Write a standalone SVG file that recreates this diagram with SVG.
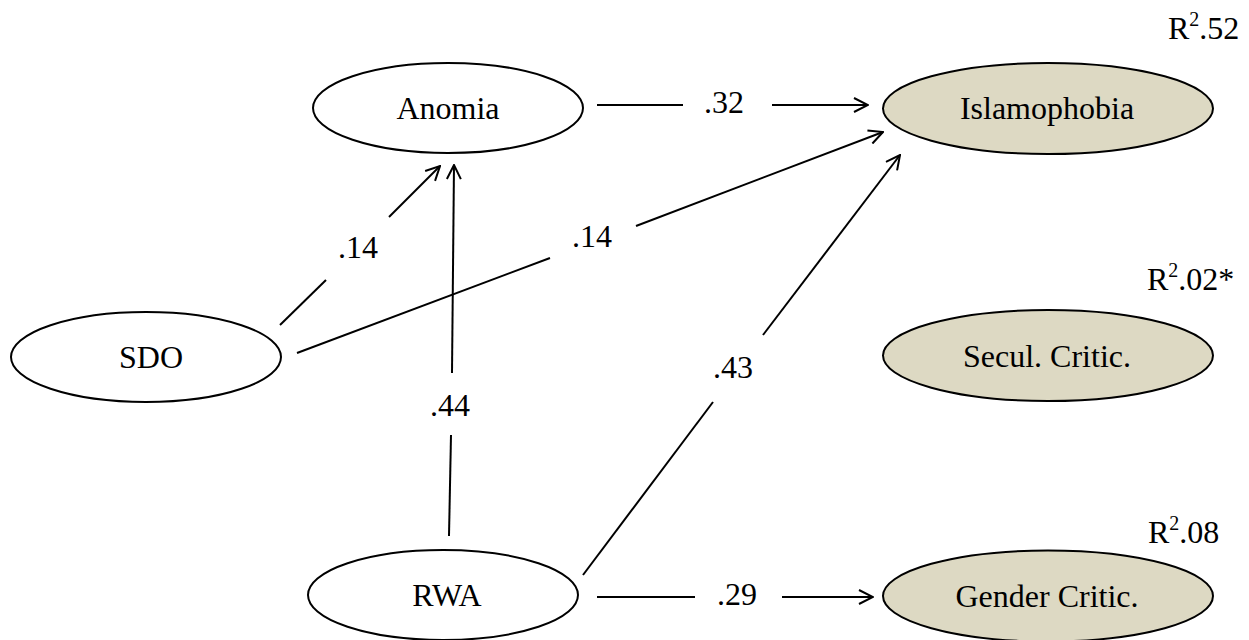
<svg xmlns="http://www.w3.org/2000/svg" width="1249" height="640" viewBox="0 0 1249 640">
<style>
text{font-family:"Liberation Serif","Times New Roman",serif;font-size:32px;fill:#000}
.lab{text-anchor:middle}
ellipse{stroke:#000;stroke-width:2}
.ind{fill:#fff}
.dep{fill:#DDD9C3}
.c line{stroke:#000;stroke-width:2;fill:none}
.sup{font-size:20px}
</style>
<defs>
<marker id="arr" viewBox="0 0 16 16" refX="15" refY="8" markerWidth="16" markerHeight="16" markerUnits="userSpaceOnUse" orient="auto">
<path d="M1,1 L15,8 L1,15" fill="none" stroke="#000" stroke-width="2"/>
</marker>
</defs>
<rect width="1249" height="640" fill="#fff"/>
<g id="connectors" class="c">
<line x1="597" y1="105" x2="683" y2="105"/>
<line x1="772" y1="105" x2="868" y2="105" marker-end="url(#arr)"/>
<line x1="280" y1="325" x2="326" y2="280"/>
<line x1="389" y1="217" x2="440" y2="166" marker-end="url(#arr)"/>
<line x1="297" y1="353" x2="550" y2="258"/>
<line x1="636" y1="226" x2="883" y2="132" marker-end="url(#arr)"/>
<line x1="449" y1="536" x2="451" y2="435"/>
<line x1="452" y1="373" x2="454" y2="165" marker-end="url(#arr)"/>
<line x1="583" y1="575" x2="713" y2="402"/>
<line x1="763" y1="335" x2="900" y2="155" marker-end="url(#arr)"/>
<line x1="597" y1="597" x2="695" y2="597"/>
<line x1="782" y1="597" x2="873" y2="597" marker-end="url(#arr)"/>
<text x="724" y="113" class="lab">.32</text>
<text x="358" y="258" class="lab">.14</text>
<text x="592" y="247" class="lab">.14</text>
<text x="450" y="416" class="lab">.44</text>
<text x="733" y="378" class="lab">.43</text>
<text x="737" y="605" class="lab">.29</text>
</g>
<g id="anomia">
<ellipse class="ind" cx="448" cy="108" rx="135" ry="45"/>
<text x="448" y="119" class="lab">Anomia</text>
</g>
<g id="sdo">
<ellipse class="ind" cx="146" cy="357" rx="135" ry="45"/>
<text x="151" y="368" class="lab">SDO</text>
</g>
<g id="rwa">
<ellipse class="ind" cx="443" cy="595" rx="135" ry="45"/>
<text x="447" y="606" class="lab">RWA</text>
</g>
<g id="islamophobia">
<ellipse class="dep" cx="1048" cy="108.5" rx="165" ry="45.5"/>
<text x="1047" y="119" class="lab">Islamophobia</text>
<text x="1168" y="39">R<tspan class="sup" dy="-13">2</tspan><tspan dy="13">.52</tspan></text>
</g>
<g id="secul">
<ellipse class="dep" cx="1048" cy="355.5" rx="165" ry="45.5"/>
<text x="1047" y="367" class="lab">Secul. Critic.</text>
<text x="1147" y="290">R<tspan class="sup" dy="-13">2</tspan><tspan dy="13">.02*</tspan></text>
</g>
<g id="gender">
<ellipse class="dep" cx="1048" cy="596" rx="165" ry="45.5"/>
<text x="1047" y="607" class="lab">Gender Critic.</text>
<text x="1148" y="543">R<tspan class="sup" dy="-13">2</tspan><tspan dy="13">.08</tspan></text>
</g>
</svg>
